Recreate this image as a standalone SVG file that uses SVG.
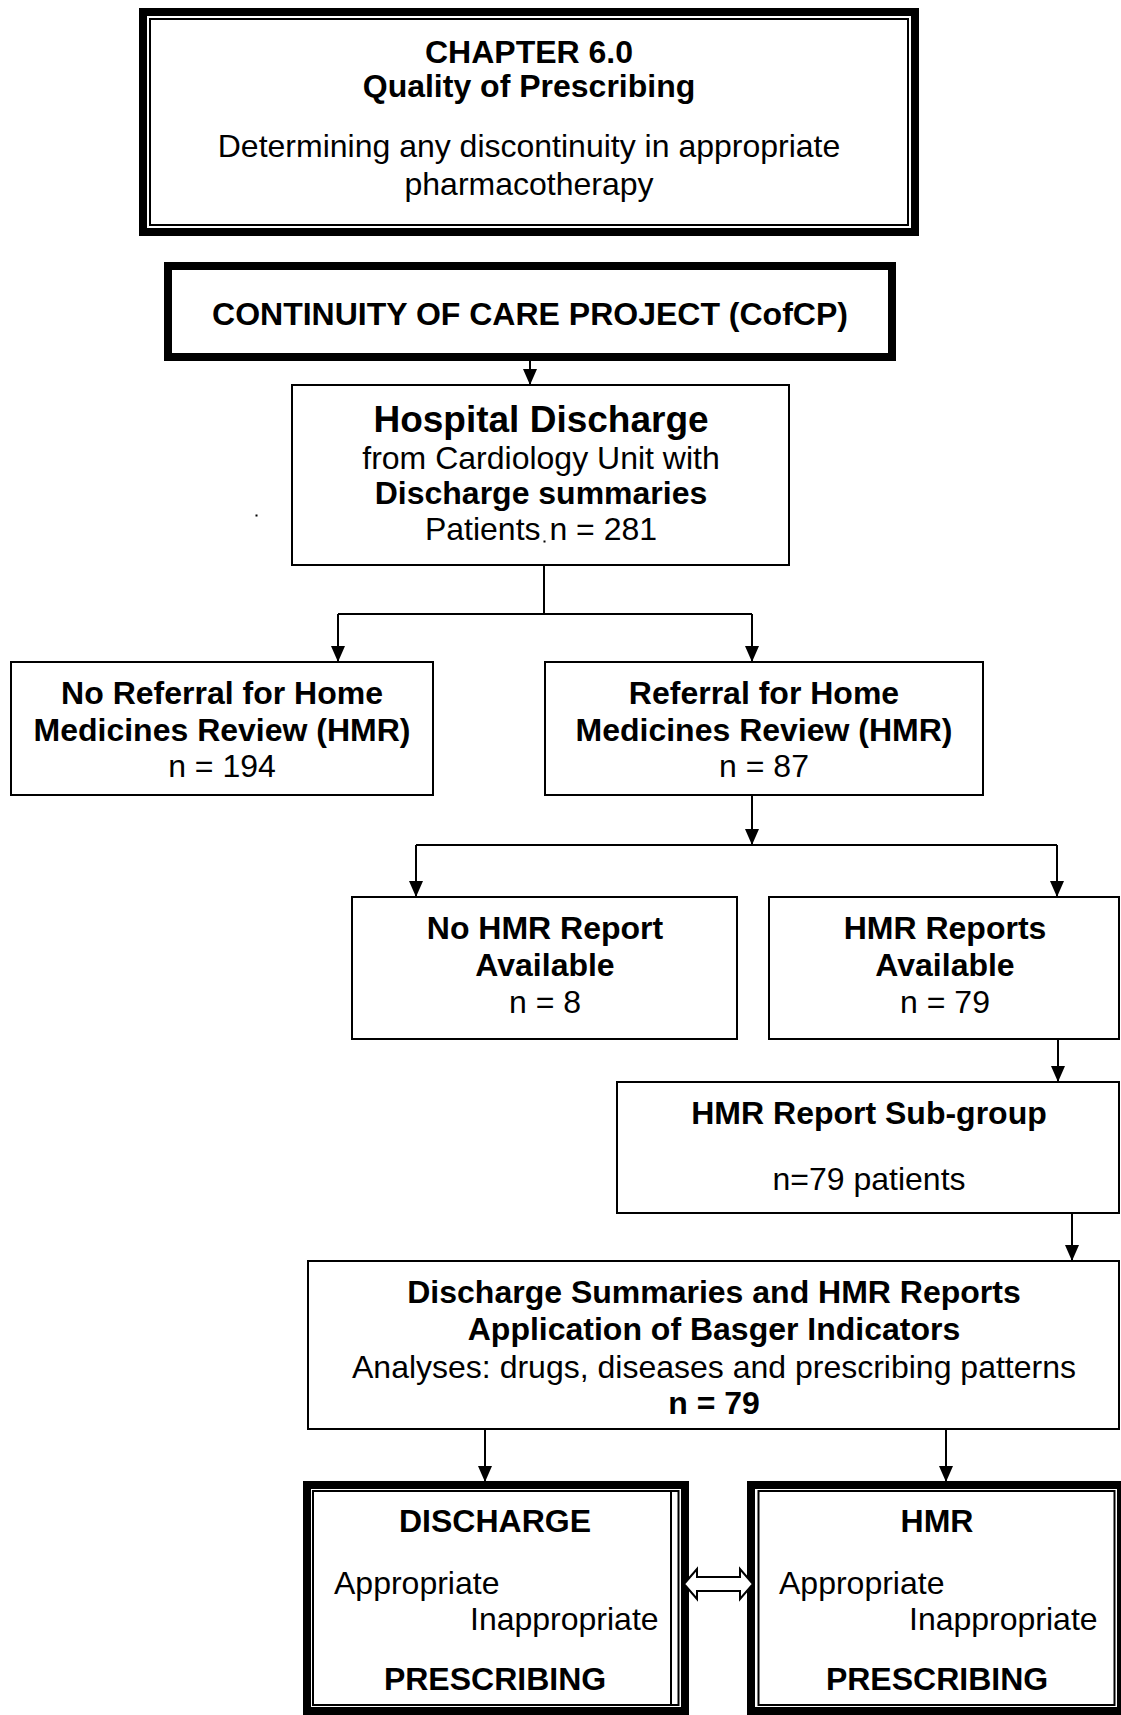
<svg xmlns="http://www.w3.org/2000/svg" width="1121" height="1715" viewBox="0 0 1121 1715">
  <defs>
    <style>
      .box { fill: #fff; stroke: #000; stroke-width: 2; }
      .thick { fill: #fff; stroke: #000; stroke-width: 8; }
      .thin { fill: none; stroke: #000; stroke-width: 2; }
      .conn { fill: none; stroke: #000; stroke-width: 2; }
      text { font-family: "Liberation Sans", Arial, sans-serif; font-size: 32px; fill: #000; text-anchor: middle; }
      .b { font-weight: bold; }
      .big { font-size: 37px; font-weight: bold; }
      .l { text-anchor: start; }
    </style>
    <marker id="arrow" markerUnits="userSpaceOnUse" markerWidth="16" markerHeight="15" viewBox="0 0 16 15" refX="16" refY="7" orient="auto">
      <path d="M0,0 L16,7 L0,14 Z" fill="#000"/>
    </marker>
  </defs>

  <!-- chapter title frame -->
  <g id="chapter">
    <rect class="thick" x="143" y="12" width="772" height="220"/>
    <rect class="thin" x="150" y="19" width="758" height="206"/>
    <text class="b" x="529" y="63">CHAPTER 6.0</text>
    <text class="b" x="529" y="97">Quality of Prescribing</text>
    <text x="529" y="157">Determining any discontinuity in appropriate</text>
    <text x="529" y="195">pharmacotherapy</text>
  </g>

  <!-- project heading -->
  <g id="project">
    <rect class="thick" x="168" y="266" width="724" height="91"/>
    <text class="b" x="530" y="325">CONTINUITY OF CARE PROJECT (CofCP)</text>
  </g>

  <g id="discharge-cohort">
    <rect class="box" x="292" y="385" width="497" height="180"/>
    <text class="big" x="541" y="432">Hospital Discharge</text>
    <text x="541" y="469">from Cardiology Unit with</text>
    <text class="b" x="541" y="504">Discharge summaries</text>
    <text x="541" y="540">Patients n = 281</text>
    <rect x="543.5" y="540.5" width="2" height="2" fill="#000"/>
  </g>
  <rect x="255.5" y="514.5" width="2" height="2" fill="#000"/>

  <g id="no-referral">
    <rect class="box" x="11" y="662" width="422" height="133"/>
    <text class="b" x="222" y="704">No Referral for Home</text>
    <text class="b" x="222" y="741">Medicines Review (HMR)</text>
    <text x="222" y="777">n = 194</text>
  </g>

  <g id="referral">
    <rect class="box" x="545" y="662" width="438" height="133"/>
    <text class="b" x="764" y="704">Referral for Home</text>
    <text class="b" x="764" y="741">Medicines Review (HMR)</text>
    <text x="764" y="777">n = 87</text>
  </g>

  <g id="no-report">
    <rect class="box" x="352" y="897" width="385" height="142"/>
    <text class="b" x="545" y="939">No HMR Report</text>
    <text class="b" x="545" y="976">Available</text>
    <text x="545" y="1013">n = 8</text>
  </g>

  <g id="reports">
    <rect class="box" x="769" y="897" width="350" height="142"/>
    <text class="b" x="945" y="939">HMR Reports</text>
    <text class="b" x="945" y="976">Available</text>
    <text x="945" y="1013">n = 79</text>
  </g>

  <g id="subgroup">
    <rect class="box" x="617" y="1082" width="502" height="131"/>
    <text class="b" x="869" y="1124">HMR Report Sub-group</text>
    <text x="869" y="1190">n=79 patients</text>
  </g>

  <g id="analysis">
    <rect class="box" x="308" y="1261" width="811" height="168"/>
    <text class="b" x="714" y="1303">Discharge Summaries and HMR Reports</text>
    <text class="b" x="714" y="1340">Application of Basger Indicators</text>
    <text x="714" y="1378">Analyses: drugs, diseases and prescribing patterns</text>
    <text class="b" x="714" y="1414">n = 79</text>
  </g>

  <g id="discharge-prescribing">
    <rect class="thick" x="307" y="1485" width="378" height="226"/>
    <rect class="thin" x="313" y="1491" width="365.5" height="214"/>
    <line class="thin" x1="671" y1="1492" x2="671" y2="1704"/>
    <text class="b" x="495" y="1532">DISCHARGE</text>
    <text class="l" x="334" y="1594">Appropriate</text>
    <text class="l" x="470" y="1630">Inappropriate</text>
    <text class="b" x="495" y="1690">PRESCRIBING</text>
  </g>

  <g id="hmr-prescribing">
    <rect class="thick" x="751" y="1485" width="370" height="226"/>
    <rect class="thin" x="758.5" y="1491" width="356" height="214"/>
    <text class="b" x="937" y="1532">HMR</text>
    <text class="l" x="779" y="1594">Appropriate</text>
    <text class="l" x="909" y="1630">Inappropriate</text>
    <text class="b" x="937" y="1690">PRESCRIBING</text>
  </g>

  <g id="connectors">
    <line class="conn" x1="530" y1="361" x2="530" y2="385" marker-end="url(#arrow)"/>
    <polyline class="conn" points="544,565 544,614"/>
    <line class="conn" x1="338" y1="614" x2="752" y2="614"/>
    <line class="conn" x1="338" y1="614" x2="338" y2="662" marker-end="url(#arrow)"/>
    <line class="conn" x1="752" y1="614" x2="752" y2="662" marker-end="url(#arrow)"/>
    <line class="conn" x1="752" y1="795" x2="752" y2="845" marker-end="url(#arrow)"/>
    <line class="conn" x1="416" y1="845" x2="1057" y2="845"/>
    <line class="conn" x1="416" y1="845" x2="416" y2="897" marker-end="url(#arrow)"/>
    <line class="conn" x1="1057" y1="845" x2="1057" y2="897" marker-end="url(#arrow)"/>
    <line class="conn" x1="1058" y1="1039" x2="1058" y2="1082" marker-end="url(#arrow)"/>
    <line class="conn" x1="1072" y1="1213" x2="1072" y2="1261" marker-end="url(#arrow)"/>
    <line class="conn" x1="485" y1="1429" x2="485" y2="1482" marker-end="url(#arrow)"/>
    <line class="conn" x1="946" y1="1429" x2="946" y2="1482" marker-end="url(#arrow)"/>
    <!-- two-way comparison arrow between the prescribing frames -->
    <path d="M684,1584 L697,1569 L697,1577 L740,1577 L740,1569 L753,1584 L740,1599 L740,1591 L697,1591 L697,1599 Z" fill="#fff" stroke="#000" stroke-width="2" stroke-linejoin="miter"/>
  </g>
</svg>
